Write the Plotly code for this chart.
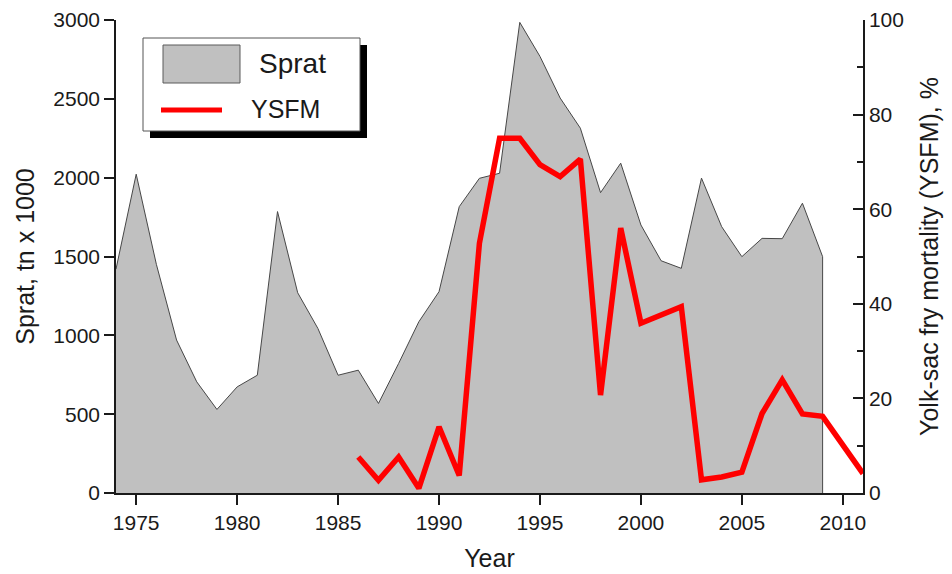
import plotly.graph_objects as go

# ---- data ----
sprat_years = list(range(1974, 2010))
sprat_values = [1420, 2022, 1450, 970, 705, 530, 673, 747, 1785, 1270,
                1044, 747, 779, 568, 822, 1086, 1277, 1816, 1996, 2028,
                2985, 2769, 2505, 2314, 1905, 2092, 1700, 1473, 1425, 1997,
                1689, 1499, 1615, 1613, 1838, 1499]

ysfm_years = list(range(1986, 2012))
ysfm_values = [7.6, 2.7, 7.6, 1.0, 14.0, 3.7, 52.8, 75.0, 75.0, 69.4,
               66.9, 70.6, 20.7, 56.0, 35.9, 37.6, 39.4, 2.8, 3.4, 4.4,
               16.8, 23.9, 16.7, 16.2, 10.1, 4.1]

x_ticks = [1975, 1980, 1985, 1990, 1995, 2000, 2005, 2010]
left_ticks = [0, 500, 1000, 1500, 2000, 2500, 3000]
right_ticks = [0, 20, 40, 60, 80, 100]

FONT = "Liberation Sans, Arial, sans-serif"

# close the area polygon down to the axis at the last year
area_x = sprat_years + [sprat_years[-1]]
area_y = sprat_values + [0]

fig = go.Figure()
fig.add_trace(go.Scatter(
    x=area_x, y=area_y, name="Sprat", mode="lines",
    fill="tozeroy", fillcolor="#c0c0c0",
    line=dict(color="#474747", width=1), yaxis="y"))
fig.add_trace(go.Scatter(
    x=ysfm_years, y=ysfm_values, name="YSFM", mode="lines",
    line=dict(color="#ff0000", width=5.5), yaxis="y2"))

axis_common = dict(showgrid=False, zeroline=False, showline=True,
                   linecolor="#1a1a1a", linewidth=1.5,
                   tickfont=dict(family=FONT, size=21, color="#1a1a1a"),
                   tickcolor="#1a1a1a", tickwidth=1.5)

# page body has an 8px margin; figure is sized to fill the rest of the window
fig.update_layout(
    width=944, height=566,
    margin=dict(l=108, r=89, t=12, b=81, autoexpand=False),
    paper_bgcolor="white", plot_bgcolor="white",
    showlegend=False,
    font=dict(family=FONT, color="#1a1a1a"),
    xaxis=dict(range=[1974, 2011], tickvals=x_ticks, ticks="outside",
               ticklen=10, automargin=False,
               title=dict(text="Year", font=dict(family=FONT, size=25),
                          standoff=17),
               **axis_common),
    yaxis=dict(range=[0, 3000], tickvals=left_ticks, ticks="outside",
               ticklen=10, automargin=False,
               title=dict(text="Sprat, tn x 1000", font=dict(family=FONT, size=25),
                          standoff=12),
               **axis_common),
    yaxis2=dict(range=[0, 100], tickvals=right_ticks, ticks="inside",
                ticklen=10, overlaying="y", side="right", anchor="x",
                automargin=False,
                minor=dict(dtick=10, tick0=0, ticks="inside", ticklen=6,
                           tickcolor="#1a1a1a", tickwidth=1.5),
                title=dict(text="Yolk-sac fry mortality (YSFM), %",
                           font=dict(family=FONT, size=25), standoff=18),
                **axis_common),
)

# ---- custom legend (box with drop shadow) ----
W, H, L, T = 747.0, 473.0, 116.0, 20.0
def px(xp):
    return (xp - L) / W
def py(yp):
    return (T + H - yp) / H

shapes = [
    dict(type="rect", xref="paper", yref="paper", layer="above",
         x0=px(150), x1=px(367), y0=py(138), y1=py(45),
         fillcolor="black", line=dict(width=0)),
    dict(type="rect", xref="paper", yref="paper", layer="above",
         x0=px(143), x1=px(360), y0=py(131), y1=py(38),
         fillcolor="white", line=dict(color="#555555", width=1)),
    dict(type="rect", xref="paper", yref="paper", layer="above",
         x0=px(163), x1=px(240), y0=py(83), y1=py(45),
         fillcolor="#c0c0c0", line=dict(color="#5a5a5a", width=1)),
    dict(type="line", xref="paper", yref="paper", layer="above",
         x0=px(161), x1=px(222), y0=py(110), y1=py(110),
         line=dict(color="#ff0000", width=5)),
]
fig.update_layout(shapes=shapes)
fig.add_annotation(xref="paper", yref="paper", x=px(257), y=py(63),
                   xanchor="left", yanchor="middle", showarrow=False,
                   text="Sprat", font=dict(family=FONT, size=28, color="#1a1a1a"))
fig.add_annotation(xref="paper", yref="paper", x=px(249), y=py(109),
                   xanchor="left", yanchor="middle", showarrow=False,
                   text="YSFM", font=dict(family=FONT, size=25, color="#1a1a1a"))

fig.write_html("out.html")
